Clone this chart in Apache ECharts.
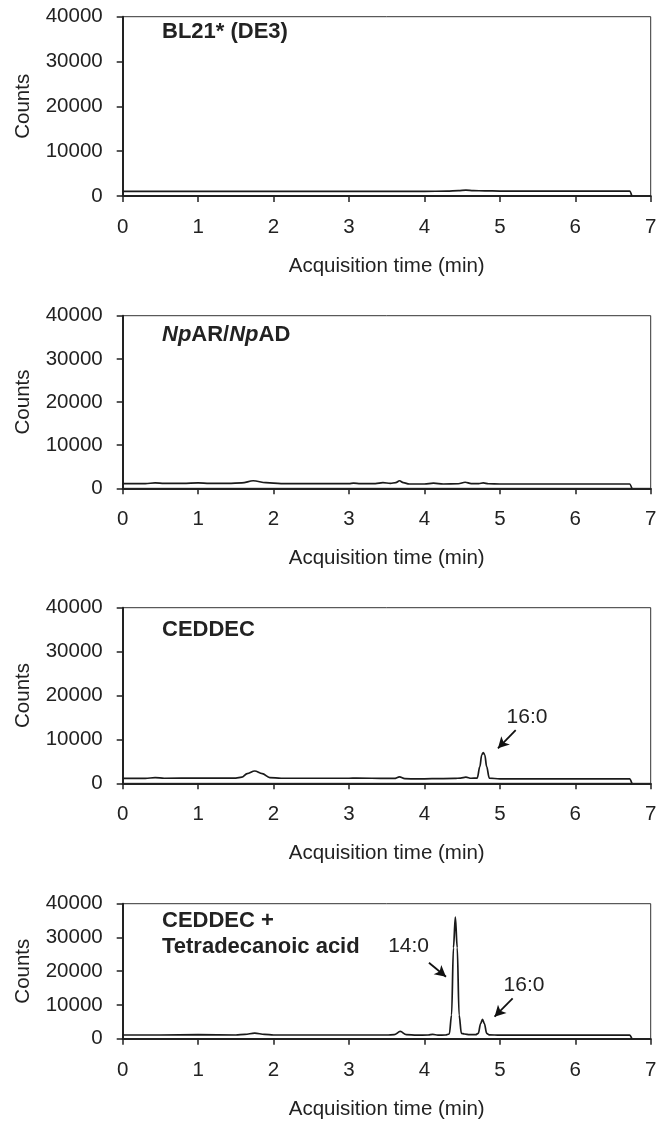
<!DOCTYPE html>
<html>
<head>
<meta charset="utf-8">
<script src="https://cdn.jsdelivr.net/npm/echarts@6/dist/echarts.min.js"></script>
<style>
html,body{margin:0;padding:0;background:#fff;}
#c{width:660px;height:1122px;}
</style>
</head>
<body>
<div id="c"></div>
<script>
// ---- Data ----
var panelTitles = ['BL21* (DE3)', '{i|Np}AR/{i|Np}AD', 'CEDDEC', 'CEDDEC +\nTetradecanoic acid'];
var xTicks = [0, 1, 2, 3, 4, 5, 6, 7];
var yTicks = [0, 10000, 20000, 30000, 40000];

var t1 = [0, 0.5, 1.0, 1.5, 2.0, 2.5, 3.0, 3.5, 4.0, 4.3, 4.45, 4.55, 4.65, 4.8, 5.0, 5.5, 6.0, 6.5, 6.72, 6.75];
var c1 = [1050, 1050, 1050, 1050, 1050, 1050, 1050, 1050, 1050, 1080, 1200, 1320, 1200, 1150, 1100, 1080, 1080, 1080, 1080, 0];

var t2 = [0, 0.3, 0.43, 0.55, 0.8, 1.0, 1.15, 1.4, 1.58, 1.73, 1.9, 2.1, 2.5, 3.0, 3.06, 3.15, 3.35, 3.45, 3.55, 3.62, 3.67, 3.72, 3.8, 4.0, 4.12, 4.25, 4.45, 4.54, 4.62, 4.72, 4.78, 4.85, 5.0, 5.5, 6.0, 6.5, 6.72, 6.75];
var c2 = [1100, 1100, 1250, 1150, 1150, 1250, 1150, 1150, 1250, 1750, 1300, 1100, 1100, 1100, 1200, 1100, 1100, 1300, 1150, 1300, 1750, 1300, 1000, 1000, 1200, 1000, 1050, 1400, 1100, 1100, 1250, 1050, 1000, 1000, 1000, 1000, 1000, 0];

var t3 = [0, 0.3, 0.43, 0.55, 1.0, 1.5, 1.58, 1.65, 1.75, 1.85, 1.95, 2.1, 2.5, 3.0, 3.1, 3.5, 3.6, 3.67, 3.74, 3.9, 4.1, 4.4, 4.48, 4.55, 4.62, 4.70, 4.735, 4.76, 4.78, 4.80, 4.825, 4.86, 5.0, 5.5, 6.0, 6.5, 6.72, 6.75];
var c3 = [1100, 1100, 1300, 1150, 1200, 1200, 1400, 2200, 2800, 2200, 1300, 1150, 1150, 1150, 1200, 1100, 1100, 1450, 1050, 1000, 1050, 1100, 1200, 1400, 1150, 1200, 3800, 6500, 7000, 6500, 3800, 1200, 1000, 1000, 1000, 1000, 1000, 0];

var t4 = [0, 0.5, 1.0, 1.5, 1.62, 1.75, 1.88, 2.0, 2.5, 3.0, 3.5, 3.6, 3.68, 3.76, 3.9, 4.05, 4.11, 4.18, 4.28, 4.33, 4.36, 4.385, 4.41, 4.435, 4.46, 4.49, 4.53, 4.6, 4.68, 4.715, 4.745, 4.77, 4.795, 4.825, 4.86, 5.0, 5.5, 6.0, 6.5, 6.72, 6.75];
var c4 = [1100, 1100, 1200, 1100, 1300, 1650, 1300, 1100, 1100, 1100, 1100, 1200, 2150, 1200, 1050, 1100, 1300, 1050, 1100, 1400, 7000, 27000, 36000, 27000, 7000, 1600, 1400, 1200, 1200, 1600, 4500, 5700, 4500, 1600, 1150, 1050, 1050, 1050, 1050, 1050, 0];

var times = [t1, t2, t3, t4];
var counts = [c1, c2, c3, c4];

// annotations: label text, label position, arrow from, arrow to (data coords)
var annotations = [
  [],
  [],
  [{text: '16:0', at: [5.36, 15170], from: [5.21, 12140], to: [4.975, 7970]}],
  [{text: '14:0', at: [3.79, 27260], from: [4.06, 22520], to: [4.286, 18370]},
   {text: '16:0', at: [5.32, 15910], from: [5.17, 11970], to: [4.93, 6520]}]
];

// ---- Layout ----
var gridTops = [16.7, 315.7, 607.7, 903.7];
var gridHeights = [179.3, 172.6, 175.6, 135];
var titleTops = [19, 322, 617, 907.7];

var FONT = '"Liberation Sans", Arial, Helvetica, sans-serif';
var TXT = '#222';

var grids = [], xAxes = [], yAxes = [], series = [], titles = [];
for (var i = 0; i < 4; i++) {
  grids.push({left: 122.7, right: 9.3, top: gridTops[i], height: gridHeights[i],
    show: true, borderColor: '#333', borderWidth: 1, backgroundColor: 'transparent'});
  xAxes.push({type: 'value', gridIndex: i, min: xTicks[0], max: xTicks[xTicks.length - 1], interval: 1,
    name: 'Acquisition time (min)', nameLocation: 'middle', nameGap: 60,
    nameTextStyle: {fontFamily: FONT, fontSize: 20.5, color: TXT},
    axisLine: {show: true, onZero: false, lineStyle: {color: '#222', width: 2}},
    axisTick: {show: true, inside: false, length: 6, lineStyle: {color: '#222', width: 1.5}},
    axisLabel: {margin: 21, fontFamily: FONT, fontSize: 20.5, color: TXT,
      formatter: function (v) { return String(v); }},
    splitLine: {show: false}});
  yAxes.push({type: 'value', gridIndex: i, min: yTicks[0], max: yTicks[yTicks.length - 1], interval: 10000,
    name: 'Counts', nameLocation: 'middle', nameGap: 89, nameRotate: 90,
    nameTextStyle: {fontFamily: FONT, fontSize: 20.5, color: TXT},
    axisLine: {show: true, onZero: false, lineStyle: {color: '#222', width: 2}},
    axisTick: {show: true, inside: false, length: 6, lineStyle: {color: '#222', width: 1.5}},
    axisLabel: {margin: 20, fontFamily: FONT, fontSize: 20.5, color: TXT,
      formatter: function (v) { return String(v); }},
    splitLine: {show: false}});

  var pts = times[i].map(function (t, k) { return [t, counts[i][k]]; });
  var ann = annotations[i];
  var s = {type: 'line', xAxisIndex: i, yAxisIndex: i, data: pts, showSymbol: false, symbol: 'none',
    smooth: 0.35, smoothMonotone: 'x',
    lineStyle: {color: '#1a1a1a', width: 1.7}, silent: true};
  if (ann.length) {
    s.markLine = {silent: true, symbol: ['none', 'arrow'], symbolSize: [9, 11], animation: false,
      lineStyle: {color: '#111', width: 1.8, type: 'solid'}, label: {show: false},
      data: ann.map(function (a) { return [{coord: a.from}, {coord: a.to}]; })};
    s.markPoint = {silent: true, symbol: 'circle', symbolSize: 0, animation: false,
      label: {show: true, position: 'inside', fontFamily: FONT, fontSize: 21, color: TXT,
        formatter: function (p) { return p.name; }},
      data: ann.map(function (a) { return {name: a.text, coord: a.at}; })};
  }
  series.push(s);

  titles.push({text: panelTitles[i], left: 162, top: titleTops[i], padding: 0,
    textStyle: {fontFamily: FONT, fontSize: 22, fontWeight: 'bold', color: TXT, lineHeight: 26,
      rich: {i: {fontFamily: FONT, fontSize: 22, fontWeight: 'bold', fontStyle: 'italic', color: TXT, lineHeight: 26}}}});
}

var chart = echarts.init(document.getElementById('c'), null, {renderer: 'canvas'});
chart.setOption({
  animation: false,
  backgroundColor: '#fff',
  title: titles,
  grid: grids,
  xAxis: xAxes,
  yAxis: yAxes,
  series: series
});
</script>
</body>
</html>
